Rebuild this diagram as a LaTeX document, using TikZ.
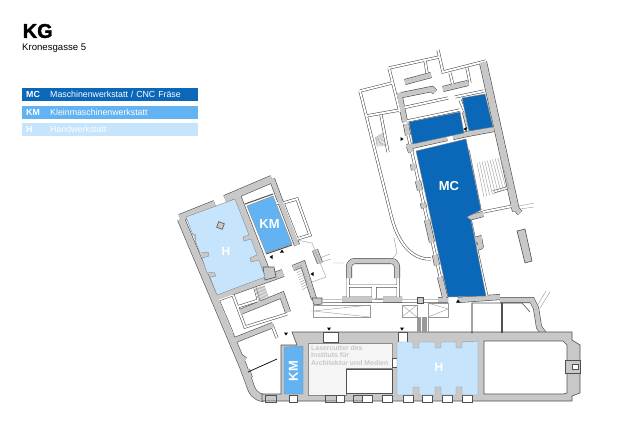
\documentclass[tikz,border=0pt]{standalone}
\usepackage{fontspec}
\setmainfont{Liberation Sans}
\newfontfamily\heavyfont[BoldFeatures={FakeBold=1.6}]{Liberation Sans}
\usetikzlibrary{calc}
\definecolor{mcblue}{HTML}{0B67B8}
\definecolor{kmblue}{HTML}{63B3F2}
\definecolor{hblue}{HTML}{C6E4FC}
\definecolor{wallgray}{HTML}{C8C8C8}
\definecolor{wallline}{HTML}{505050}
\definecolor{laserfloor}{HTML}{F5F5F5}

\newcommand{\wallsthick}{
    (483,62) -- (516,211)
    (181,219) -- (243,366) -- (249,382) .. controls (252,392) and (255,397) .. (264,398)
    (180,218) -- (215,204)
    (225,199) -- (272,179)
    (237,196) -- (268,276)
    (213,298) -- (272,277) -- (283,273)
}
\newcommand{\wallsmid}{
    (399,93) -- (405,122)
    (406,124) -- (408,135)
    (409,146) -- (411,152)
    (407,147) -- (447,138)
    (453,137) -- (467,134) -- (494,129)
    (465,112) -- (469,128)
    (405,82) -- (431,75)
    (402,95) -- (432,89) -- (435,92)
    (443,89) -- (468,83)
    (413,164) -- (414,170)
    (418,181) -- (420,190)
    (423,203) -- (424,208)
    (427,220) -- (432,242)
    (435,255) -- (437,265)
    (440,277) -- (445,297)
    (468,218) -- (483,214)
    (513,205) -- (520,213)
    (475,240) -- (482,238)
    (476,248) -- (482,246)
    (479,239) -- (481,248)
    (342,299.5) -- (372,299.5)
    (383,299.5) -- (402,299.5)
    (438,300) -- (448,300)
    (458,300) -- (500,297)
    (500,300) -- (532,300) -- (536,308) -- (539,327) -- (544,334)
    (272,179) -- (279,198) -- (297,245)
    (293,268) -- (303,264) -- (314,299)
    (240,312) -- (282,295) -- (288,312)
    (235,340) -- (273,325)
    (238,355) -- (245,360)
    (247,370) -- (250,378)
    (315,250) -- (320,263)
}
\newcommand{\wallsround}{
    [rounded corners=6] (349,278) -- (349,261) -- (397,261) -- (397,278)
}
\newcommand{\wallsthin}{
    (389,68) -- (439,57)
    (438,50) -- (443,72) -- (486,61)
    (389,68) -- (400,112)
    (360,91) -- (392,83)
    (366,116) -- (400,110)
    (425,60) -- (427,73)
    (450,73) -- (453,85)
    (467,68) -- (470,83)
    (402,108) -- (448,98)
    (407,121) -- (460,110)
    (455,97) -- (484,91)
    (460,100) -- (465,112)
    (381,115) -- (388,152)
    (360,91) -- (391,215) .. controls (397,240) and (410,260) .. (431,259)
    (408,135) -- (445,298)
    (468,150) -- (480,210)
    (470,219) -- (487,297)
    (483,212) -- (513,206)
    (493,192) -- (507,188)
    (348,278) -- (348,298)
    (398,278) -- (398,298)
    (347,286) -- (399,286)
    (373,287) -- (373,298)
    (375,287) -- (375,298)
    (323,301) -- (442,301)
    (283,203) -- (297,199) -- (310,235) -- (297,239) -- cycle
    (277,203) -- (283,203)
    (233,295) -- (245,327) -- (287,314)
    (218,300) -- (232,333)
    (218,300) -- (232,295)
    (255,288) -- (259,302)
    (237,307) -- (259,300)
    (272,325) -- (277,338)
}

\begin{document}
\begin{tikzpicture}[
            x = 1pt,
            y = -1pt,
            node distance = 17.5pt,
            every node/.style = {inner sep = 0pt}
        ]

        \tikzstyle{legendbar}=[
            minimum width = 176pt,
            minimum height = 13pt,
            anchor = west,
            text = white,
            font = \fontsize{8.8}{9}\selectfont,
            align = left,
            text width = 172pt,
            inner xsep = 2pt
        ]
        \tikzstyle{roomlabel}=[
            text = white,
            font = \fontsize{13}{13}\selectfont\bfseries
        ]
        \tikzstyle{room}=[
            draw = black!45,
            line width = 0.4pt
        ]
        \tikzstyle{outline}=[
            draw = wallline,
            line width = 0.6pt
        ]
        \tikzstyle{fineline}=[
            draw = black!40,
            line width = 0.4pt
        ]

        \useasboundingbox (0,0) rectangle (640,432);
        \fill[white] (0,0) rectangle (640,432);

        % walls, dark pass first so that the joints merge
        \draw[wallline, line width = 8pt] \wallsthick;
        \draw[wallline, line width = 6pt] \wallsmid;
        \draw[wallline, line width = 6pt] \wallsround;
        \draw[wallline, line width = 3pt] \wallsthin;
        \draw[white, line width = 1.9pt] \wallsthin;
        \draw[wallgray, line width = 6.8pt] \wallsthick;
        \draw[wallgray, line width = 4.8pt] \wallsmid;
        \draw[wallgray, line width = 4.8pt] \wallsround;

        \filldraw[outline, fill = wallgray] (263,267) -- (274,267) -- (276,277) -- (265,280) -- cycle;
        \filldraw[outline, fill = wallgray] (312,298) -- (322,298) -- (322,304) -- (314,305) -- cycle;
        \filldraw[outline, fill = wallgray] (417,297) rectangle (423,303);

        % south block
        \filldraw[outline, fill = wallgray] (292,332) -- (572,332) -- (572,340) -- (580,345) -- (580,393)
            -- (572,396) -- (572,401) -- (262,401) -- (262,394) -- (281,394) -- (281,345) -- (297,345) -- cycle;
        \filldraw[outline, fill = white] (484,341) -- (563,341) -- (567,345) -- (567,393) -- (563,394) -- (484,394) -- cycle;
        \filldraw[outline, fill = wallgray] (565,360) rectangle (580,373);
        \filldraw[outline, fill = white] (572,364) rectangle (578,369);
        \filldraw[room, fill = laserfloor] (308,343) -- (392,343) -- (392,368) -- (346,368) -- (346,395) -- (308,395) -- cycle;
        \filldraw[outline, fill = white] (346,369) -- (392,369) -- (392,393) -- (346,393) -- cycle;
        \filldraw[outline, fill = white] (392,358) rectangle (397,367);

        \foreach \xa/\xb in {323/338, 398/407}
            \filldraw[outline, fill = white] (\xa,332) rectangle (\xb,342);
        \foreach \xa/\xb in {289/297, 336/344, 362/372, 382/392, 403/413, 422/432, 442/452, 462/472}
            \filldraw[outline, fill = white] (\xa,395.5) rectangle (\xb,402);
        \foreach \xa/\xb in {325/336, 353/362, 265/276}
            \draw[outline] (\xa,395.5) rectangle (\xb,402);

        % rooms
        \fill[wallgray] (186,217) -- (235,199) -- (265,277) -- (217,295) -- cycle;
        \filldraw[room, fill = mcblue] (416,151) -- (466,139) -- (481,210) -- (467,217) -- (471,220) -- (486,296) -- (448,297) -- cycle;
        \filldraw[room, fill = mcblue] (409,122) -- (460,112) -- (464,133) -- (413,144) -- cycle;
        \filldraw[room, fill = mcblue] (462,98) -- (485,94) -- (493,127) -- (469,131) -- cycle;
        \filldraw[room, fill = kmblue] (247,206) -- (273,196) -- (292,244) -- (266,253) -- cycle;
        \filldraw[room, fill = kmblue] (284,347) -- (303,346) -- (303,394) -- (284,394) -- cycle;
        \filldraw[room, fill = hblue] (186,217) -- (235,199) -- (249,235) -- (243,237) -- (244,241) -- (251,239)
            -- (257,255) -- (250,258) -- (251,262) -- (259,260) -- (265,277) -- (217,295)
            -- (210,277) -- (216,276) -- (214,272) -- (207,273)
            -- (202,258) -- (209,256) -- (208,252) -- (200,253)
            -- (195,240) -- (196,239) -- (195,234) -- (193,235) -- cycle;
        \filldraw[room, fill = hblue] (397,342) -- (413,342) -- (413,348) -- (419,348) -- (419,342)
            -- (435,342) -- (435,348) -- (441,348) -- (441,342)
            -- (456,342) -- (456,348) -- (462,348) -- (462,342) -- (478,341)
            -- (478,395) -- (462,395) -- (462,387) -- (456,387) -- (456,395)
            -- (441,395) -- (441,387) -- (435,387) -- (435,395)
            -- (419,395) -- (419,387) -- (413,387) -- (413,395) -- (397,395) -- cycle;
        \filldraw[outline, fill = wallgray, rotate around = {-20:(220.5,225.5)}] (217.5,222.5) rectangle (223.5,228.5);
        \draw[wallline, line width = 1pt] (245,204) -- (273,194) (266,254) -- (292,245);
        \draw[black, line width = 0.7pt] (248,372) -- (277,359) (472,303) -- (472,333);
        \draw[wallline, line width = 1.4pt] (502,303) -- (502,333);
        \draw[outline] (472,303) -- (522,303) -- (530,312) (375,299) -- (383,299);

        % thin gray lines around the courtyard and the corridor
        \draw[fineline] (297,240) -- (312,243) -- (326,277) -- (312,282);
        \draw[fineline] (320,258) -- (330,254) (322,262) -- (331,259);
        \draw[fineline] (333,263) -- (344,263) (393,258) -- (397,253) -- (394,238);
        \draw[fineline] (519,206) -- (534,203) (520,209) -- (534,207);
        \draw[fineline] (537,306) -- (546,291) (540,308) -- (550,292);
        \draw[fineline] (313,305) -- (370,305) -- (370,317) -- (313,317) -- cycle;
        \draw[fineline] (370,305) -- (313,311) -- (370,317);
        \draw[fineline] (402,305) rectangle (417,317);
        \draw[fineline] (402,305) -- (417,317) (417,305) -- (402,317);
        \draw[fineline] (428,303) -- (448,303) -- (448,317) -- (428,317) -- cycle;
        \draw[fineline] (428,303) -- (448,309) -- (428,317);
        \filldraw[outline, fill = wallgray] (517,231) -- (525,229) -- (532,261) -- (525,263) -- cycle;

        % stairs
        \foreach \i in {0,0.1,...,1} {
            \draw[fineline] ($(477,163)!\i!(503,157)$) -- ($(484,197)!\i!(512,188)$);
            \draw[fineline] ($(417,317)!\i!(429,317)$) -- ($(417,332)!\i!(429,332)$);
            \draw[fineline] ($(255,288)!\i!(265,285)$) -- ($(259,302)!\i!(270,298)$);
            \draw[fineline] ($(295,268)!\i!(303,292)$) -- ($(302,265)!\i!(310,288)$);
            \draw[fineline] ($(375,138)!\i!(377,147)$) -- ($(383,133)!\i!(387,147)$);
        }

        % door marks
        \foreach \px/\py/\ang in {329/329/0, 402/329/0, 286/334/0, 458/301/180, 271/257/-90, 282/251/180, 312/274/-90, 402/139/90, 465/129/-90}
            \fill[black, shift = {(\px,\py)}, rotate = \ang] (-2,-1.5) -- (2,-1.5) -- (0,1.5) -- cycle;

        % labels
        \node[roomlabel] (labelmc) at (449,186) {MC};
        \node[roomlabel] (labelkm) at (269.5,224) {KM};
        \node[roomlabel, rotate = 90] (labelkmb) at (293.5,371) {KM};
        \node[roomlabel, font = \fontsize{12}{12}\selectfont\bfseries] (labelh) at (226,251) {H};
        \node[roomlabel, font = \fontsize{12}{12}\selectfont\bfseries] (labelhb) at (439,367) {H};
        \node[anchor = north west, text = black!22, align = left,
            font = \fontsize{6.9}{7.2}\selectfont\bfseries] (laser) at (311,345.5) {Lasercutter des\\Instituts für\\Architektur und Medien};

        % title and legend
        \node[anchor = west, font = \fontsize{20}{20}\selectfont\heavyfont\bfseries] (title) at (22.5,31) {KG};
        \node[anchor = west, font = \fontsize{9.6}{10}\selectfont] (address) at (22,48) {Kronesgasse 5};

        \node[legendbar, fill = mcblue] (barmc) at (22,94.5) {\makebox[26pt][l]{\hspace{2pt}\textbf{MC}}Maschinenwerkstatt / CNC Fräse};
        \node[legendbar, fill = kmblue] (barkm) [below of=barmc] {\makebox[26pt][l]{\hspace{2pt}\textbf{KM}}Kleinmaschinenwerkstatt};
        \node[legendbar, fill = hblue] (barh) [below of=barkm] {\makebox[26pt][l]{\hspace{2pt}\textbf{H}}Handwerkstatt};
    \end{tikzpicture}
\end{document}
